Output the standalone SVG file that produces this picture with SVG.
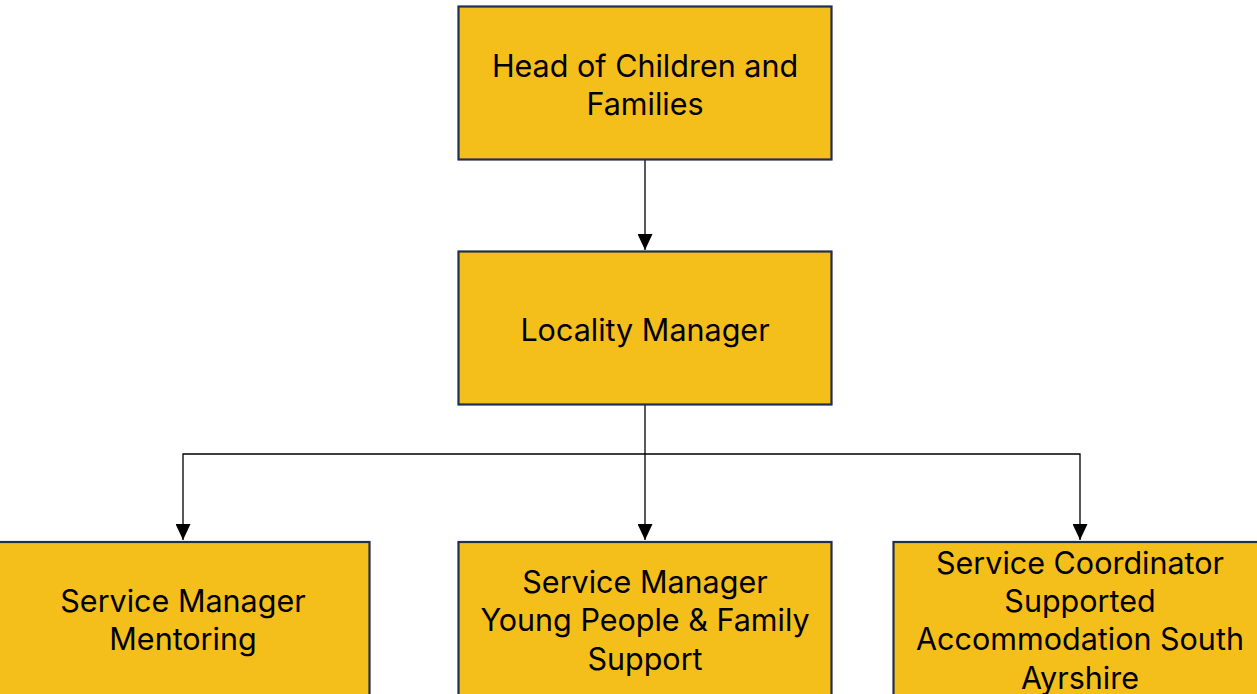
<svg xmlns="http://www.w3.org/2000/svg" width="1257" height="694" viewBox="0 0 1257 694">
  <style>
    .box { fill: #F4BF1A; stroke: #1E2F4F; stroke-width: 2.2; }
    .lbl { font-family: Inter, "Liberation Sans", sans-serif; font-size: 30.5px; fill: #000; text-anchor: middle; }
    .edge { fill: none; stroke: #000; stroke-width: 1.3; }
  </style>
  <defs>
    <marker id="arrow" viewBox="0 0 16 15" refX="16" refY="7.5" markerWidth="16" markerHeight="15" markerUnits="userSpaceOnUse" orient="auto">
      <path d="M0,0 L16,7.5 L0,15 Z" fill="#000"/>
    </marker>
  </defs>

  <g id="connectors">
    <path class="edge" d="M645,160 L645,250" marker-end="url(#arrow)"/>
    <path class="edge" d="M645,405 L645,540" marker-end="url(#arrow)"/>
    <path class="edge" d="M645,454 L183,454 L183,540" marker-end="url(#arrow)"/>
    <path class="edge" d="M645,454 L1080,454 L1080,540" marker-end="url(#arrow)"/>
  </g>

  <g id="head">
    <rect class="box" x="458.5" y="6.5" width="373" height="153"/>
    <text class="lbl" x="645" y="77">Head of Children and</text>
    <text class="lbl" x="645" y="115">Families</text>
  </g>

  <g id="locality">
    <rect class="box" x="458.5" y="251.5" width="373" height="153"/>
    <text class="lbl" x="645" y="341">Locality Manager</text>
  </g>

  <g id="mentoring">
    <rect class="box" x="-4.5" y="542" width="374" height="160"/>
    <text class="lbl" x="183" y="612">Service Manager</text>
    <text class="lbl" x="183" y="650">Mentoring</text>
  </g>

  <g id="young-people">
    <rect class="box" x="458.5" y="542" width="373" height="160"/>
    <text class="lbl" x="645" y="593">Service Manager</text>
    <text class="lbl" x="645" y="631">Young People &amp; Family</text>
    <text class="lbl" x="645" y="670">Support</text>
  </g>

  <g id="supported-accommodation">
    <rect class="box" x="893.5" y="542" width="374" height="160"/>
    <text class="lbl" x="1080" y="574">Service Coordinator</text>
    <text class="lbl" x="1080" y="612">Supported</text>
    <text class="lbl" x="1080" y="650">Accommodation South</text>
    <text class="lbl" x="1080" y="689">Ayrshire</text>
  </g>
</svg>
